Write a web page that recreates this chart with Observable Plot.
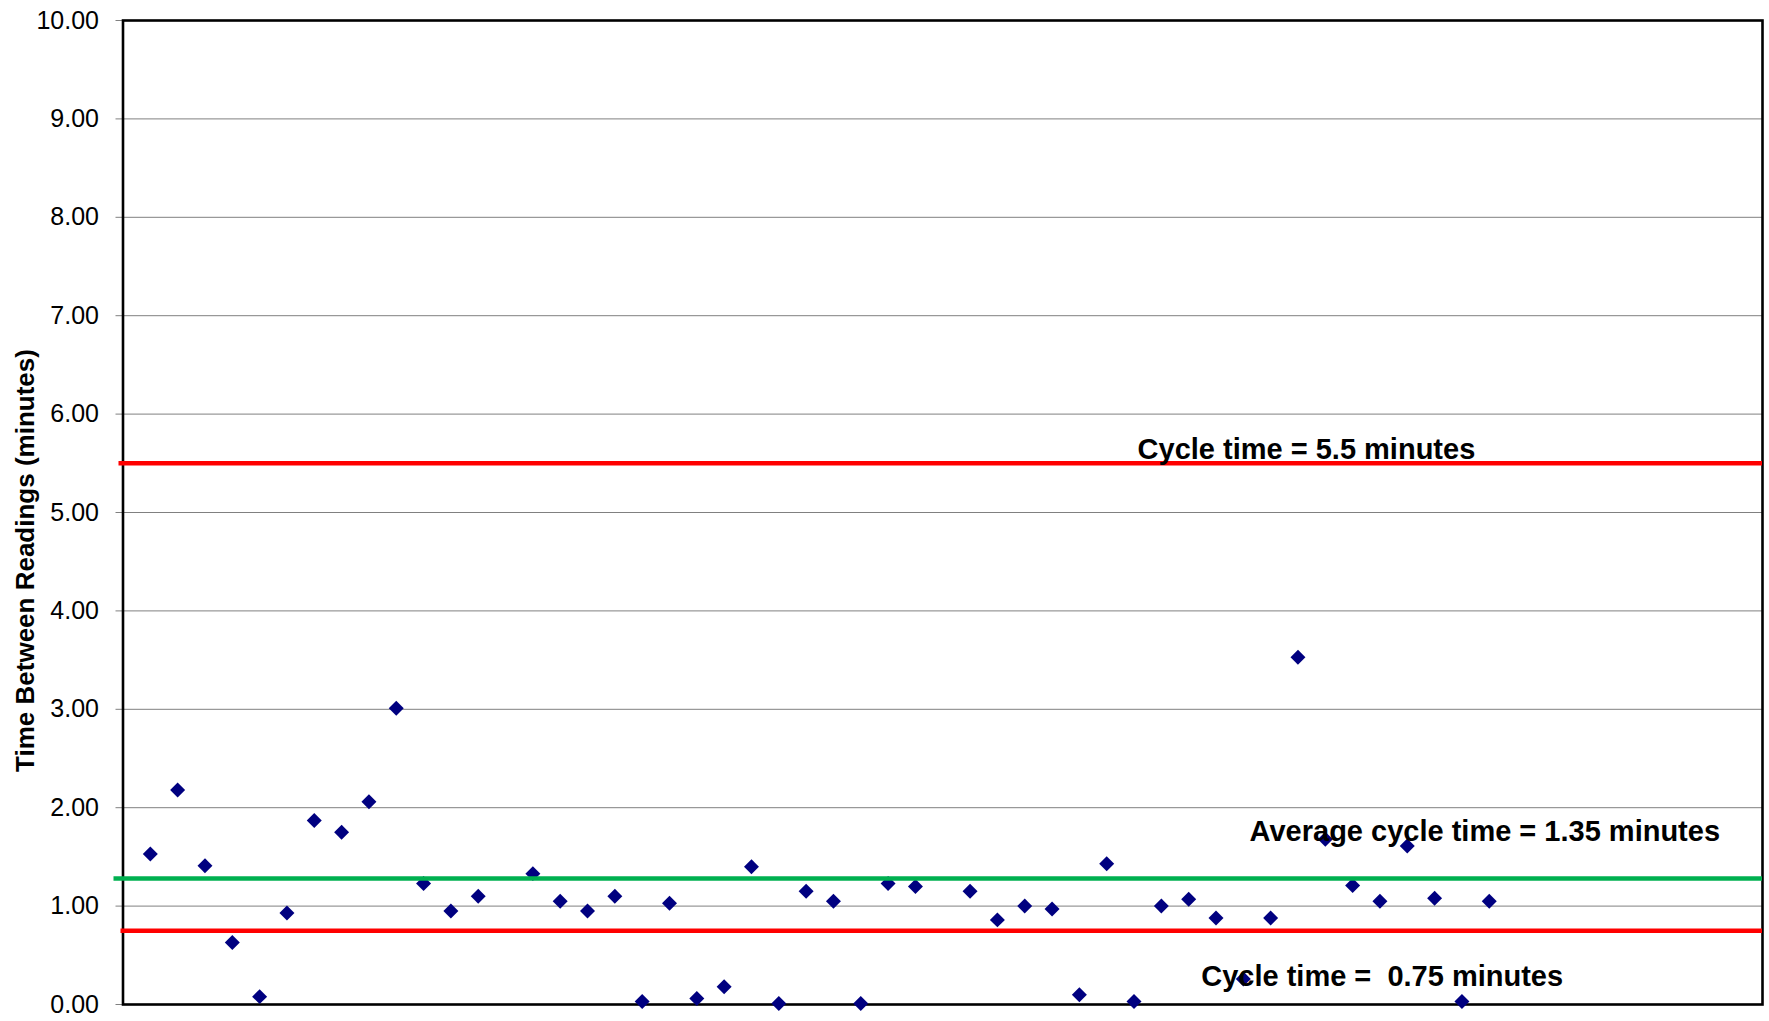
<!DOCTYPE html>
<html>
<head>
<meta charset="utf-8">
<script src="https://cdn.jsdelivr.net/npm/d3@7"></script>
<script src="https://cdn.jsdelivr.net/npm/@observablehq/plot@0.6"></script>
<style>
  html, body { margin: 0; padding: 0; background: #ffffff; }
  svg text { white-space: pre; }
</style>
</head>
<body>
<div id="chart"></div>
<script>
// Reading number (x position) and time between readings (minutes)
const readings = [1,2,3,4,5,6,7,8,9,10,11,12,13,
  15,16,17,18,19,20,21,22,23,24,25,26,27,28,29,
  31,32,33,34,35,36,37,38,39,40,41,42,43,44,45,46,47,48,49,50];
const minutes = [1.53,2.18,1.41,0.63,0.08,0.93,1.87,1.75,2.06,3.01,1.23,0.95,1.10,
  1.33,1.05,0.95,1.10,0.03,1.03,0.06,0.18,1.40,0.01,1.15,1.05,0.01,1.23,1.20,
  1.15,0.86,1.00,0.97,0.10,1.43,0.03,1.00,1.07,0.88,0.26,0.88,3.53,1.68,1.21,1.05,1.61,1.08,0.03,1.05];

// Reference lines
const refValues = [5.5, 1.28, 0.75];
const refColors = ["#FF0000", "#00B050", "#FF0000"];
const refInsetLeft = [-4, -9, -2];

// Annotations
const annoLabels = ["Cycle time = 5.5 minutes", "Average cycle time = 1.35 minutes", "Cycle time =  0.75 minutes"];
const annoX = [37.13, 41.23, 39.46];
const annoY = [5.64, 1.754, 0.28];

const yTicks = [0,1,2,3,4,5,6,7,8,9,10];
const yTitle = "Time Between Readings (minutes)";

const points = readings.map((r, i) => ({reading: r, minutes: minutes[i]}));
const annotations = annoLabels.map((t, i) => ({label: t, x: annoX[i], y: annoY[i]}));

const marks = [
  Plot.gridY(yTicks.filter(t => t > 0 && t < 10), {stroke: "#808080", strokeOpacity: 1, strokeWidth: 1}),
  Plot.axisY(yTicks, {
    tickSize: 7, tickPadding: 17, fontSize: 25,
    tickFormat: d => d.toFixed(2), stroke: "#808080", fill: "black", label: null
  }),
  Plot.frame({stroke: "black", strokeWidth: 2.6}),
  Plot.dot(points, {x: "reading", y: "minutes", symbol: "diamond2", r: 6.75, fill: "#000080", stroke: "none"})
];
refValues.forEach((v, i) => {
  marks.push(Plot.ruleY([v], {stroke: refColors[i], strokeWidth: 4.5, insetLeft: refInsetLeft[i]}));
});
marks.push(Plot.text(annotations, {
  x: "x", y: "y", text: "label", textAnchor: "start", lineAnchor: "middle",
  fontSize: 29, fontWeight: "bold", fill: "black"
}));
marks.push(Plot.text([yTitle], {
  frameAnchor: "left", textAnchor: "middle", lineAnchor: "middle", rotate: -90, dx: -97, dy: 48,
  fontSize: 26, fontWeight: "bold", fill: "black"
}));

const chart = Plot.plot({
  width: 1769,
  height: 1021,
  marginLeft: 122.5,
  marginRight: 7,
  marginTop: 20,
  marginBottom: 17,
  x: {domain: [0, 60], axis: null},
  y: {domain: [0, 10], axis: null},
  style: {fontFamily: "'Liberation Sans', Arial, sans-serif", background: "white", color: "black", overflow: "visible"},
  marks
});
document.getElementById("chart").appendChild(chart);
</script>
</body>
</html>
